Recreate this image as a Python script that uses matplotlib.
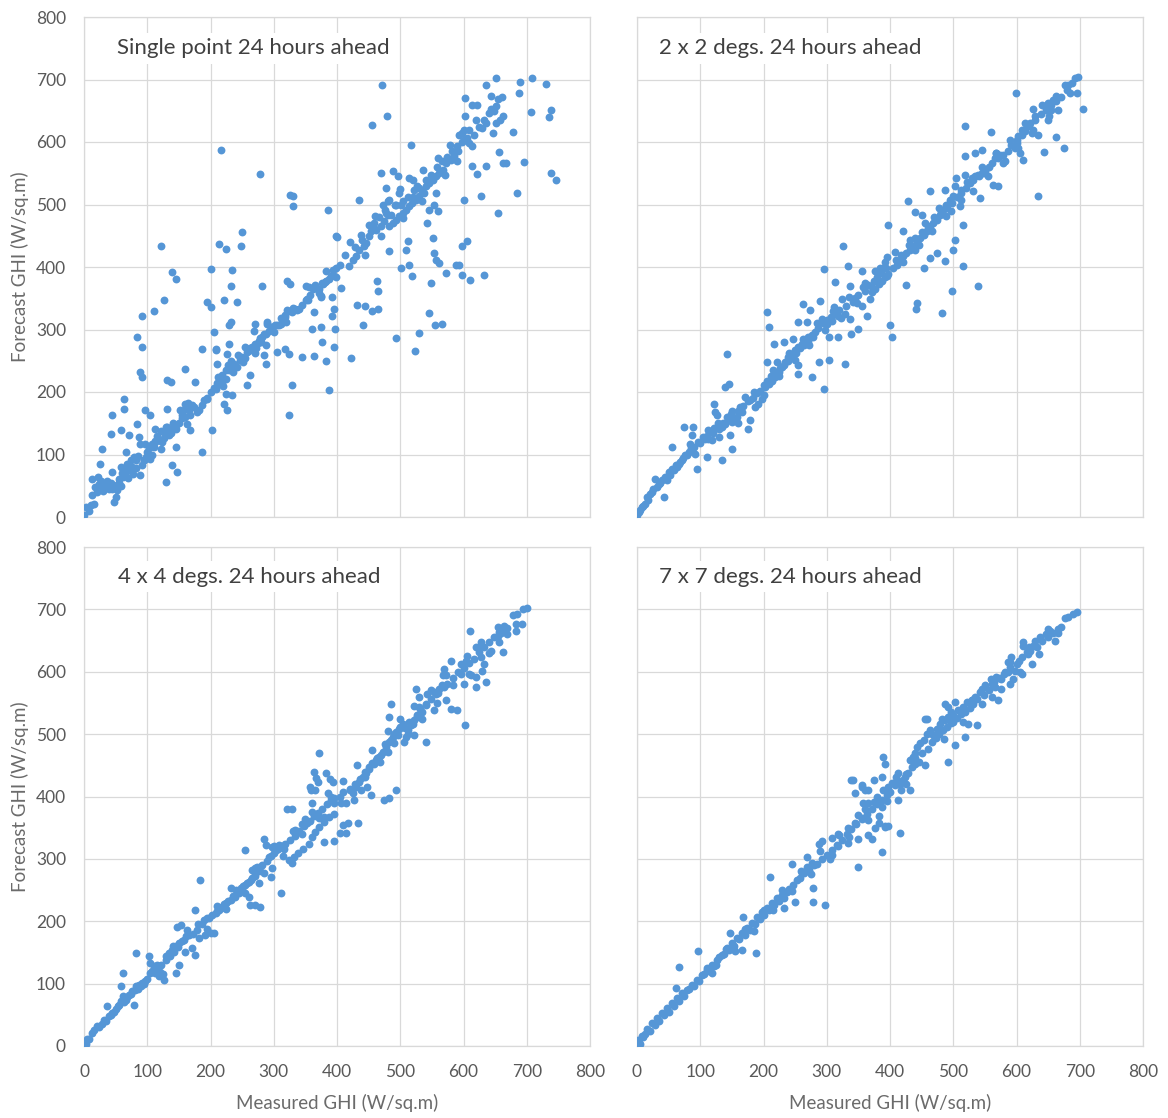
import matplotlib
matplotlib.use("Agg")
import matplotlib.pyplot as plt

# ---------------- data (Measured GHI, Forecast GHI) ----------------
titles = ["Single point 24 hours ahead", "2 x 2 degs. 24 hours ahead",
          "4 x 4 degs. 24 hours ahead", "7 x 7 degs. 24 hours ahead"]
tick_values = [0, 100, 200, 300, 400, 500, 600, 700, 800]
x_label = "Measured GHI (W/sq.m)"
y_label = "Forecast GHI (W/sq.m)"

single_point = [
    (217,588),(278,549),(325,515),(331,514),(330,497),
    (0,3),(3,16),(11,19),(16,21),(13,35),(12,61),(18,48),(24,53),(29,48),(34,51),(39,48),(45,45),(50,32),(47,24),
    (53,53),(55,61),(61,64),(63,75),(68,85),(74,91),(79,96),(66,104),(58,80),(45,72),(29,109),(26,85),(42,133),
    (58,139),(71,131),(87,128),(84,149),(63,173),(63,189),(45,163),(89,117),(97,117),(95,91),(89,67),(105,93),
    (100,104),(108,117),(113,120),(118,124),(124,120),(129,144),(134,141),(97,171),(105,163),(113,141),(121,109),
    (132,173),(145,141),(145,112),(139,83),(147,72),(129,56),(160,181),(166,171),(155,163),(163,149),(168,139),
    (179,168),(187,104),(189,187),(195,189),(203,139),(208,205),(213,213),(218,216),(224,221),(229,235),(232,240),
    (237,245),(242,240),(250,256),(258,264),(255,272),(266,272),(271,277),(276,282),(282,288),(287,293),(297,304),
    (305,307),(311,309),(318,320),(329,328),(205,296),(208,269),(211,245),(224,197),(226,171),(234,195),(221,181),
    (226,261),(229,277),(232,312),(258,211),(263,227),(287,245),(284,259),(305,264),(318,269),(324,261),(345,256),
    (363,257),(382,250),(387,203),(329,211),(324,163),(268,298),(271,309),(289,312),(321,331),(340,333),(353,349),
    (355,368),(360,301),(363,328),(376,280),(374,304),(382,394),(374,352),(392,352),(395,333),(400,448),(121,433),
    (213,437),(224,429),(249,434),(250,456),(139,392),(145,381),(126,348),(110,330),(91,321),(84,288),(92,272),
    (89,232),(92,224),(132,219),(137,216),(160,237),(176,216),(200,397),(234,395),(232,370),(221,348),(242,344),
    (195,344),(200,336),(282,370),(321,378),(326,373),(334,333),(229,308),(187,269),(208,267),(395,272),(392,322),
    (40,45),(43,54),(49,50),(55,55),(22,64),(27,58),(34,50),(67,72),(73,77),(77,69),(83,91),(95,91),(101,97),
    (107,99),(110,112),(113,122),(119,123),(122,138),(128,133),(131,144),(143,144),(146,148),(137,135),(155,159),
    (158,171),(164,182),(170,180),(168,163),(182,171),(194,191),(206,207),(211,215),(215,221),(218,227),(224,235),
    (228,243),(233,249),(239,243),(246,252),(254,255),(260,265),(266,268),(272,271),(275,279),(278,287),(284,293),
    (287,276),(290,309),(296,304),(302,308),(308,307),(317,323),(323,329),(330,334),(336,331),(351,348),(362,365),
    (372,365),(375,354),(378,373),(381,376),(387,381),(393,387),(399,384),
    (8,10),(20,40),(30,42),(36,58),(52,44),(58,50),(60,70),(70,62),(76,80),(82,78),(86,98),(92,84),(98,96),
    (102,110),(116,130),(126,126),(134,132),(140,150),(150,150),(152,172),(160,160),(174,176),(186,180),
    (200,200),(212,224),(220,210),(236,232),(244,260),(252,248),(262,270),(270,262),(280,280),(292,298),
    (300,296),(312,318),(320,312),(344,340),(358,356),(366,372),
    (471,692),(479,641),(455,627),(517,596),(652,702),(709,703),(635,692),(689,696),(731,693),(739,652),(735,640),
    (706,648),(688,678),(603,670),(614,660),(622,660),(643,673),(655,669),(643,653),(661,672),(651,658),(663,641),
    (658,636),(651,631),(646,615),(635,631),(630,623),(620,636),(609,620),(603,641),(598,615),(593,612),(679,616),
    (656,584),(662,567),(667,567),(695,568),(739,551),(747,539),(684,519),(654,486),(627,513),(600,508),(614,561),
    (622,549),(636,561),(614,593),(609,598),(601,604),(591,585),(585,577),(580,572),(572,567),(567,556),(562,551),
    (556,545),(551,540),(546,535),(541,529),(535,521),(530,513),(525,508),(519,503),(514,497),(509,492),(504,487),
    (498,481),(493,476),(488,471),(483,465),(478,487),(470,551),(478,527),(488,553),(497,545),(514,543),(556,519),
    (554,500),(559,489),(542,471),(551,447),(554,423),(556,412),(548,375),(562,407),(588,404),(597,433),(606,441),
    (633,388),(593,404),(572,391),(434,508),(385,491),(398,450),(483,425),(501,399),(514,404),(519,385),(464,377),
    (465,361),(509,428),(512,441),(351,369),(354,348),(372,359),(377,375),(383,377),(391,385),(393,396),(398,399),
    (404,404),(407,367),(419,401),(425,412),(430,417),(435,428),(443,433),(446,439),(451,449),(454,457),(462,460),
    (469,465),(475,473),(451,468),(459,471),(480,484),(472,500),(483,508),(491,500),(498,519),(501,500),(522,524),
    (527,529),(538,519),(546,492),(610,380),(598,388),(397,301),
    (493,287),(524,265),(530,294),(546,326),(555,307),(566,309),(422,254),(441,307),(432,340),(444,338),(456,329),
    (465,333),
    (412,420),(428,432),(440,444),(458,462),(466,480),(476,492),(486,484),(494,500),(504,506),(512,512),
    (520,512),(530,526),(540,540),(548,548),(558,560),(566,570),(574,576),(582,586),(590,594),(598,600),
    (606,606),(616,612),(624,624),(632,636),(640,646),(648,650),
    (420,440),(438,452),(460,482),(480,505),(500,525),(520,540),(536,555),(560,575),(578,595),(600,620),
    (445,420),(470,450),(505,478),(535,505),(570,548),(590,570),
]

grid_2x2 = [
    (0,3),(3,8),(8,16),(13,21),(16,32),(21,37),(26,45),(29,61),(34,53),(39,59),(42,32),(45,64),(50,72),(55,77),
    (61,83),(66,85),(71,91),(76,99),(82,104),(87,107),(92,101),(95,77),(55,112),(84,117),(87,131),(74,144),(89,144),
    (97,120),(108,125),(113,125),(118,123),(113,139),(121,181),(124,168),(126,163),(129,141),(134,144),(139,149),
    (145,155),(150,152),(158,160),(166,168),(163,176),(171,192),(179,187),(179,155),(176,141),(147,131),(150,109),
    (134,91),(111,96),(139,208),(145,213),(142,261),(187,176),(192,181),(197,189),(195,202),(203,208),(208,213),
    (213,218),(218,224),(224,232),(229,240),(234,248),(239,256),(245,261),(250,267),(255,272),(261,277),(266,282),
    (271,288),(279,288),(205,328),(208,304),(216,277),(232,280),(247,285),(205,248),(221,248),(255,243),(255,229),
    (276,224),(287,248),(303,251),(295,205),(329,245),(263,341),(274,331),(255,312),(268,312),(296,397),(326,433),
    (334,402),(313,376),(337,370),(355,394),(376,394),(289,346),(311,336),(324,349),(292,317),(300,309),(308,314),
    (318,322),(329,325),(337,317),(350,301),(318,288),(303,288),(339,293),(355,338),(363,322),(368,349),(371,360),
    (376,365),(382,373),(387,378),(392,384),(397,389),(361,362),(342,344),(400,307),(403,288),(392,408),(395,416),
    (5,12),(10,18),(18,28),(24,40),(31,48),(36,55),(47,60),(52,68),(58,75),(63,80),(68,88),(73,95),(79,100),
    (85,110),(90,112),(100,118),(104,128),(110,130),(116,136),(122,142),(128,150),(136,150),(142,160),(148,165),
    (154,158),(160,170),(168,178),(175,185),(183,190),(190,198),(200,212),(206,218),(212,226),(220,230),(226,238),
    (232,243),(238,250),(244,258),(252,262),(258,270),(264,276),(270,282),(276,292),(282,296),(286,302),(294,310),
    (300,316),(306,320),(314,326),(320,332),(330,338),(344,350),(350,356),(358,368),(366,372),(374,378),(380,384),
    (386,390),(394,398),
    (697,704),(692,703),(682,692),(676,691),(684,678),(696,678),(705,653),(599,678),(663,674),(658,668),(650,663),
    (645,657),(666,652),(655,652),(626,653),(629,641),(621,631),(616,625),(608,620),(603,609),(600,599),(597,591),
    (605,583),(611,572),(626,620),(634,612),(650,636),(663,608),(675,591),(644,584),(634,513),(574,580),(566,575),
    (568,583),(582,569),(559,616),(519,625),(519,578),(534,583),(545,588),(550,553),(545,551),(539,548),(534,545),
    (529,543),(518,548),(505,543),(563,531),(571,529),(513,524),(503,529),(495,508),(489,500),(484,492),(479,484),
    (474,476),(468,471),(463,465),(458,457),(453,452),(447,447),(442,441),(437,433),(432,428),(426,423),(421,417),
    (416,409),(411,404),(405,399),(513,508),(497,489),(516,468),(503,444),(500,428),(516,401),(539,370),(487,409),
    (474,423),(463,415),(453,399),(439,428),(429,505),(463,521),(487,524),(542,511),(498,361),(442,343),(441,333),
    (421,457),(397,468),(439,488),(451,484),(426,372),(389,399),(483,327),
    (410,412),(418,420),(430,436),(440,446),(450,456),(460,462),(470,480),(480,488),(490,494),(498,502),(506,512),
    (512,518),(520,526),(526,534),(532,540),(540,545),(548,550),(556,560),(562,566),(570,574),(578,580),(586,586),
    (592,596),(600,604),(608,612),(614,618),(620,626),(630,636),(638,645),(646,652),(654,660),(662,666),(670,672),
    (680,684),(688,694),
    (120,135),(130,128),(150,170),(160,150),(185,200),(200,195),(215,235),(225,225),(240,262),(250,252),
    (262,285),(272,275),(285,310),(298,300),(310,330),(322,318),(335,352),(348,342),(360,375),(372,368),
    (384,398),(396,385),(408,424),(420,408),(432,444),(446,436),(456,470),(466,458),(478,494),(488,482),
    (500,514),(510,498),(522,536),(532,522),(545,560),(555,545),(568,582),(578,566),(590,604),(602,590),
    (614,630),(624,614),(640,660),(652,642),
]

grid_4x4 = [
    (3,3),(5,11),(13,21),(21,32),(29,35),(34,40),(39,48),(45,53),(50,59),(53,64),(58,72),(61,80),(66,74),(71,82),
    (76,88),(82,96),(87,98),(92,101),(97,104),(58,96),(61,117),(37,64),(79,66),(82,149),(103,144),(105,133),
    (110,128),(113,117),(118,112),(126,106),(105,117),(129,144),(134,149),(139,154),(145,160),(150,165),(155,168),
    (147,191),(153,194),(161,176),(163,186),(171,157),(176,146),(145,117),(150,130),(179,186),(182,173),(192,178),
    (200,181),(205,181),(176,218),(184,266),(189,202),(195,205),(203,210),(208,213),(213,218),(218,223),(224,229),
    (232,234),(239,239),(245,245),(250,250),(232,253),(255,258),(261,263),(266,269),(271,277),(279,287),(255,314),
    (266,282),(274,287),(261,239),(263,226),(271,226),(279,223),(276,261),(295,271),(297,285),(292,303),(284,332),
    (287,322),(297,319),(303,314),(308,322),(311,245),(316,316),(324,298),(329,293),(332,303),(339,309),(347,316),
    (355,324),(361,335),(366,343),(371,351),(379,359),(387,367),(395,372),(350,364),(345,356),(329,380),(321,380),
    (366,410),(363,439),(370,424),(358,415),(389,428),(379,327),(334,346),
    (8,12),(16,25),(24,30),(31,42),(42,50),(48,55),(55,66),(63,70),(68,78),(74,84),(80,90),(85,92),(90,96),
    (95,100),(100,108),(108,120),(115,124),(120,118),(122,130),(130,138),(136,145),(142,150),(148,158),(158,170),
    (166,178),(172,180),(186,195),(198,206),(210,216),(216,222),(222,228),(228,232),(236,240),(242,248),(248,254),
    (252,256),(258,262),(264,266),(270,272),(276,280),(282,290),(290,296),(296,305),(300,310),(306,316),(312,320),
    (318,324),(326,330),(334,336),(340,345),(348,352),(352,358),(358,360),(364,368),(370,374),(376,380),(384,388),
    (390,395),(396,398),
    (701,703),(694,700),(685,693),(679,691),(693,676),(683,676),(683,666),(664,673),(662,668),(656,663),(654,657),
    (656,647),(643,634),(662,631),(627,647),(625,639),(625,631),(627,623),(633,612),(635,583),(630,602),(620,591),
    (620,575),(612,594),(606,626),(604,618),(596,596),(601,580),(610,665),(580,618),(569,604),(567,594),(569,575),
    (562,572),(554,567),(556,564),(543,564),(541,548),(530,559),(535,535),(527,527),(522,522),(517,514),(512,506),
    (509,495),(506,487),(504,516),(498,508),(493,503),(488,495),(483,487),(477,479),(472,471),(467,463),(462,458),
    (456,453),(451,447),(446,437),(441,431),(435,423),(430,415),(425,405),(414,389),(525,572),(483,527),(485,548),
    (572,554),(580,540),(589,539),(602,514),(530,543),(554,538),(522,498),(541,487),(493,410),(483,397),(475,394),
    (454,402),(448,415),(438,410),(427,394),(433,357),(417,357),(406,389),(391,399),(393,423),(383,437),(372,469),
    (367,429),(359,410),(361,389),(380,367),(409,354),(396,328),(404,341),(414,341),
    (405,400),(410,408),(420,412),(428,420),(436,428),(444,440),(450,444),(458,452),(464,462),(470,466),(476,484),
    (480,472),(486,490),(490,500),(496,498),(500,512),(508,510),(514,520),(520,516),(526,530),(532,540),(540,546),
    (548,556),(560,566),(566,578),(574,580),(584,590),(592,600),(600,606),(608,614),(616,620),(632,640),(640,648),
    (648,655),(660,662),(668,670),
    (115,130),(125,115),(140,160),(160,150),(180,195),(195,188),(210,225),(225,220),(240,250),(255,245),
    (270,285),(285,278),(300,320),(315,305),(330,345),(345,340),(360,375),(372,365),(385,405),(395,390),
    (410,425),(420,410),(432,450),(445,432),(455,475),(468,455),(480,505),(490,485),(500,525),(512,500),
    (522,545),(534,525),(548,570),(558,550),(572,595),(584,578),(596,612),(608,596),(620,640),(640,630),
    (655,672),(668,660),
]

grid_7x7 = [
    (3,5),(8,16),(16,27),(24,37),(32,45),(39,53),(47,61),(55,69),(63,77),(71,85),(79,90),(87,98),(95,106),
    (103,114),(111,122),(118,130),(126,138),(134,146),(142,157),(150,165),(158,173),(166,181),(174,189),(182,197),
    (189,207),(197,215),(205,221),(213,229),(221,237),(229,242),(237,247),(253,266),(261,277),(268,287),(276,293),
    (284,292),(292,300),(300,306),(308,314),(316,322),(324,330),(332,340),(339,348),(347,356),(355,364),(363,372),
    (371,380),(379,388),(387,395),(395,402),
    (287,324),(293,328),(308,333),(318,340),(334,350),(345,358),(355,366),(360,380),(366,390),
    (308,306),(318,320),(334,325),(350,332),(366,338),(376,349),(382,357),
    (66,127),(97,152),(61,93),(118,117),(166,154),(188,149),(147,181),(168,207),(211,271),(245,291),(268,303),
    (279,253),(297,226),(279,231),(250,231),(232,221),(339,426),(350,287),(387,311),(371,332),(392,351),(361,410),
    (355,418),
    (2,9),(5,3),(10,14),(13,20),(20,24),(28,33),(35,40),(42,49),(50,55),(58,64),(66,72),(74,80),(82,92),(90,96),
    (98,104),(106,116),(114,120),(122,128),(130,142),(138,148),(146,154),(154,160),(162,172),(170,178),(178,186),
    (186,196),(194,204),(200,210),(208,218),(216,226),(224,233),(232,238),(240,252),(246,258),(258,270),(264,278),
    (272,282),(280,290),
    (695,696),(689,693),(682,688),(676,686),(671,671),(666,668),(661,649),(653,665),(647,660),(637,655),(629,649),
    (626,641),(621,634),(611,647),(611,641),(618,628),(624,612),(608,623),(592,623),(587,615),(589,607),(582,599),
    (597,602),(608,596),(595,588),(589,580),(576,588),(568,591),(566,575),(561,580),(550,578),(545,572),(542,567),
    (534,559),(529,554),(521,551),(516,543),(508,538),(503,551),(492,543),(487,548),(497,535),(492,527),(487,522),
    (482,524),(479,516),(474,509),(468,498),(463,506),(458,524),(458,501),(453,490),(447,485),(442,479),(439,469),
    (437,463),(432,458),(434,447),(429,437),(424,431),(421,426),(413,437),(411,426),(403,421),(397,415),(389,410),
    (387,431),(392,452),(389,463),(374,426),(366,410),(355,415),(342,426),(345,405),(358,389),(374,391),(387,383),
    (382,368),(392,352),(418,410),(432,410),(413,394),(492,455),(503,482),(518,495),(537,514),(561,559),(571,554),
    (455,524),(524,516),(397,352),(416,341),
    (400,408),(408,418),(416,420),(426,436),(440,452),(446,456),(450,470),(460,476),(466,488),(472,494),(478,500),
    (484,506),(490,512),(496,518),(500,520),(506,526),(512,532),(518,536),(526,542),(532,548),(538,556),(548,562),
    (556,570),(564,584),(572,590),(580,596),(586,600),(600,612),(604,618),(616,632),(632,640),(640,650),(650,655),
    (658,662),
    (110,125),(125,130),(140,155),(155,152),(170,188),(185,185),(200,218),(215,218),(230,250),(245,248),
    (260,280),(275,275),(290,312),(305,300),(320,338),(335,335),(350,370),(365,362),(380,400),(395,392),
    (410,432),(425,420),(440,462),(455,450),(470,498),(485,492),(500,530),(515,520),(530,555),(545,548),
    (560,588),(575,572),(590,615),(605,600),(620,640),(635,628),(650,668),(665,662),
]

panels = [single_point, grid_2x2, grid_4x4, grid_7x7]

# ---------------- styling ----------------
W, H = 1168, 1118
FONT = ["Lato", "DejaVu Sans"]
plt.rcParams["font.family"] = FONT
DOT = "#5596D6"
GRID = "#D9D9D9"
TICK_COLOR = "#595959"
LABEL_COLOR = "#6B6B6B"
TITLE_COLOR = "#404040"

fig = plt.figure(figsize=(W / 100, H / 100), dpi=100)
fig.patch.set_facecolor("white")

# axes rectangles in pixel coordinates (left, top, right, bottom)
rects = [(84, 17, 590, 517), (637, 17, 1143, 517), (84, 547, 590, 1046), (637, 547, 1143, 1046)]
title_pos = [(52, 750), (35, 750), (54, 752), (35, 752)]

for i, (pts, rect, title) in enumerate(zip(panels, rects, titles)):
    l, t, r, b = rect
    ax = fig.add_axes([l / W, 1 - b / H, (r - l) / W, (b - t) / H])
    xs = [p[0] for p in pts]
    ys = [p[1] for p in pts]
    ax.scatter(xs, ys, s=32, color=DOT, linewidths=0, zorder=3)
    ax.set_xlim(0, 800)
    ax.set_ylim(0, 800)
    ax.set_xticks(tick_values)
    ax.set_yticks(tick_values)
    ax.grid(True, color=GRID, linewidth=0.9, zorder=0)
    ax.set_axisbelow(True)
    for sp in ax.spines.values():
        sp.set_color(GRID)
        sp.set_linewidth(0.9)
    ax.tick_params(length=0, labelsize=12.5, labelcolor=TICK_COLOR, pad=13)
    if i in (0, 2):
        ax.set_ylabel(y_label, fontsize=13.5, color=LABEL_COLOR, labelpad=5)
    else:
        ax.tick_params(labelleft=False)
    if i in (2, 3):
        ax.set_xlabel(x_label, fontsize=13.5, color=LABEL_COLOR, labelpad=10)
    else:
        ax.tick_params(labelbottom=False)
    ax.text(title_pos[i][0], title_pos[i][1], title, fontsize=16, color=TITLE_COLOR,
            ha="left", va="center", zorder=5,
            bbox=dict(facecolor="white", edgecolor="none", pad=4))

fig.savefig("out.png", dpi=100, facecolor="white")
